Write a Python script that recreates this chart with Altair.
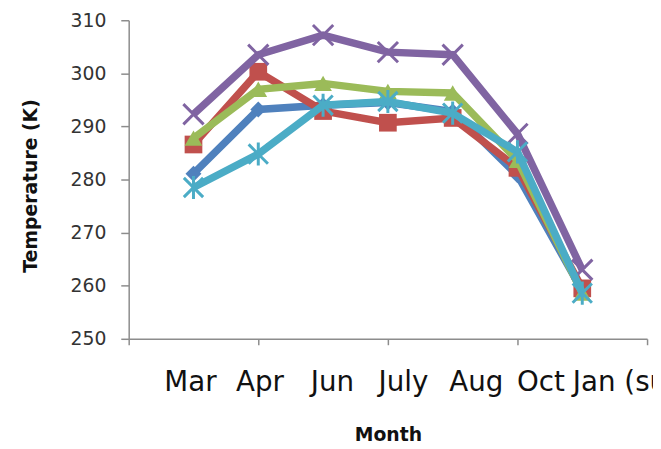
import altair as alt
import pandas as pd

months = ["Mar", "Apr", "Jun", "July", "Aug", "Oct", "Jan (summer)"]

blue = [281.1, 293.2, 294.0, 294.5, 292.8, 280.8, 259.0]
red = [286.6, 300.3, 292.9, 290.7, 291.6, 282.2, 259.5]
green = [287.8, 297.0, 298.1, 296.6, 296.3, 283.6, 258.6]
purple = [292.3, 303.5, 307.2, 304.0, 303.5, 288.6, 263.0]
cyan = [278.5, 284.8, 294.0, 294.7, 292.5, 285.2, 258.6]

series_names = ["S1", "S2", "S3", "S4", "S5"]
series_values = [blue, red, green, purple, cyan]

colors = ["#4F81BD", "#C0504D", "#9BBB59", "#8064A2", "#4BACC6"]
shapes = ["diamond", "square", "triangle-up",
          "M-1,-1L1,1M-1,1L1,-1",
          "M-1,-1L1,1M-1,1L1,-1M0,-1.2L0,1.2"]
filled = [True, True, True, False, False]
sizes = [260, 320, 320, 420, 380]

rows = []
for name, vals in zip(series_names, series_values):
    for i, (m, v) in enumerate(zip(months, vals)):
        rows.append({"series": name, "month": m, "idx": i + 1, "temp": v})
df = pd.DataFrame(rows)

label_list = [""] + months + [""]
label_expr = "[" + ",".join("'" + s + "'" for s in label_list) + "][datum.value]"
offsets = [0, -30, -23, -13, -10, -4, -1, -10, 0]
offset_cond = {
    "condition": [{"test": f"datum.value == {i}", "value": o} for i, o in enumerate(offsets) if o != 0],
    "value": 0,
}

axis_gray = "#8c8c8c"

x_enc = alt.X(
    "idx:Q",
    scale=alt.Scale(domain=[0, 8], nice=False, zero=False),
    axis=alt.Axis(
        values=list(range(9)),
        labelExpr=label_expr,
        tickOpacity={"condition": {"test": "datum.value % 2 == 0", "value": 1}, "value": 0},
        labelAlign="left",
        labelOffset=offset_cond,
        labelBaseline="alphabetic",
        labelPadding=46,
        tickSize=6,
        labelFontSize=28,
        labelFont="DejaVu Sans",
        labelColor="#111111",
        labelFlush=False,
        labelOverlap=False,
        title="Month",
        titleFont="DejaVu Sans",
        titleFontSize=19,
        titleFontWeight="bold",
        titleColor="#111111",
        titleBaseline="alphabetic",
        titleY=103,
        titleX=262,
        domainColor=axis_gray,
        tickColor=axis_gray,
        domainWidth=1.5,
        tickWidth=1.5,
        grid=False,
    ),
)

y_enc = alt.Y(
    "temp:Q",
    scale=alt.Scale(domain=[250, 310], nice=False, zero=False),
    axis=alt.Axis(
        values=[250, 260, 270, 280, 290, 300, 310],
        tickSize=8,
        labelPadding=15,
        labelFontSize=19,
        labelFont="DejaVu Sans",
        labelColor="#333333",
        title="Temperature (K)",
        titleFont="DejaVu Sans",
        titleFontSize=19,
        titleFontWeight="bold",
        titleColor="#111111",
        titleAngle=270,
        titleBaseline="alphabetic",
        titleX=-93,
        titleY=167,
        domainColor=axis_gray,
        tickColor=axis_gray,
        domainWidth=1.5,
        tickWidth=1.5,
        grid=False,
    ),
)

layers = []
for name, c, sh, f, sz in zip(series_names, colors, shapes, filled, sizes):
    sub = alt.Chart(df[df["series"] == name])
    layers.append(sub.mark_line(color=c, strokeWidth=7.5).encode(x=x_enc, y=y_enc))
    if f:
        pt = sub.mark_point(shape=sh, filled=True, color=c, size=sz, opacity=1)
    else:
        pt = sub.mark_point(shape=sh, filled=False, color=c, size=sz, strokeWidth=3, opacity=1)
    layers.append(pt.encode(x=x_enc, y=y_enc))

chart = alt.layer(*layers).properties(
    width=524,
    height=322,
    autosize=alt.AutoSizeParams(type="none"),
    padding={"left": 122, "top": 10, "right": 6, "bottom": 108},
    background="white",
).configure_view(stroke=None)

chart.save("out.html", embed_options={"renderer": "svg", "actions": False})
